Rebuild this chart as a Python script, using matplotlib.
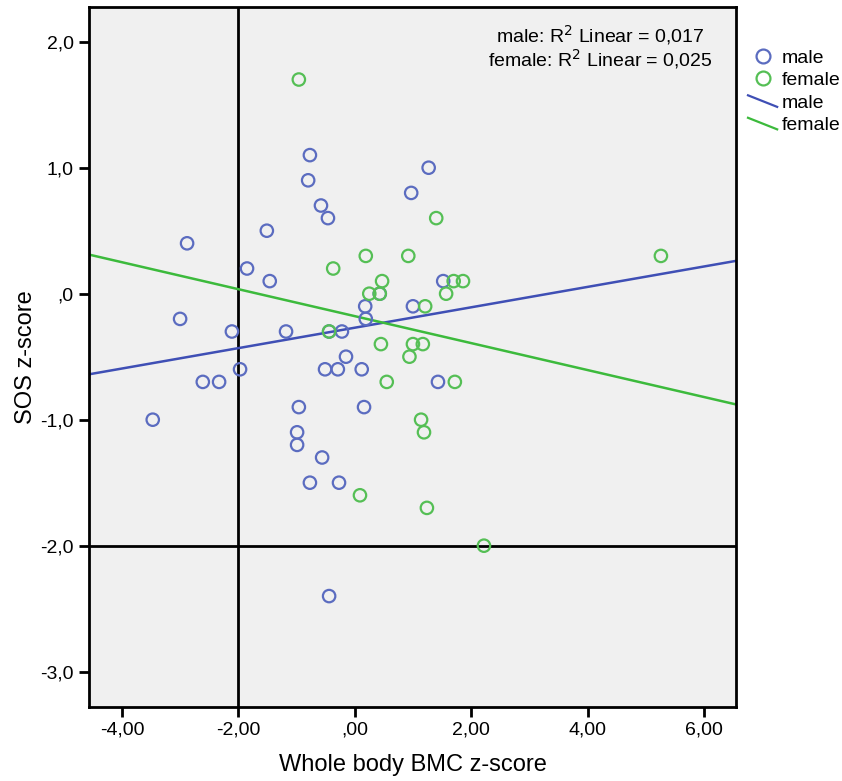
import matplotlib
matplotlib.use("Agg")
import matplotlib.pyplot as plt
import numpy as np
from matplotlib.lines import Line2D
from matplotlib.legend_handler import HandlerLine2D

plt.rcParams['font.family'] = ['Liberation Sans', 'DejaVu Sans']

# ---- data ----
male_x = [-3.47, -3.00, -2.88, -2.61, -2.33, -2.11, -1.97, -1.85, -1.51, -1.46,
          -1.18, -0.96, -0.99, -0.99, -0.77, -0.80, -0.77, -0.58, -0.56, -0.51,
          -0.46, -0.44, -0.44, -0.29, -0.27, -0.22, -0.15, 0.12, 0.16, 0.18,
          0.19, 0.43, 0.97, 1.00, 1.27, 1.43, 1.52]
male_y = [-1.0, -0.2, 0.4, -0.7, -0.7, -0.3, -0.6, 0.2, 0.5, 0.1,
          -0.3, -0.9, -1.1, -1.2, 1.1, 0.9, -1.5, 0.7, -1.3, -0.6,
          0.6, -0.3, -2.4, -0.6, -1.5, -0.3, -0.5, -0.6, -0.9, -0.1,
          -0.2, 0.0, 0.8, -0.1, 1.0, -0.7, 0.1]

female_x = [-0.96, -0.37, -0.44, 0.19, 0.25, 0.47, 0.43, 0.45, 0.55, 0.09,
            0.92, 0.94, 1.00, 1.17, 1.21, 1.40, 1.57, 1.70, 1.86, 1.72,
            1.14, 1.19, 1.24, 2.22, 5.26]
female_y = [1.7, 0.2, -0.3, 0.3, 0.0, 0.1, 0.0, -0.4, -0.7, -1.6,
            0.3, -0.5, -0.4, -0.4, -0.1, 0.6, 0.0, 0.1, 0.1, -0.7,
            -1.0, -1.1, -1.7, -2.0, 0.3]

# fit lines (intercept, slope)
male_fit = (-0.27, 0.081)
female_fit = (-0.178, -0.107)
r2_text = ["male: R$^2$ Linear = 0,017", "female: R$^2$ Linear = 0,025"]

x_ticks = [-4, -2, 0, 2, 4, 6]
x_ticklabels = ["-4,00", "-2,00", ",00", "2,00", "4,00", "6,00"]
y_ticks = [2, 1, 0, -1, -2, -3]
y_ticklabels = ["2,0", "1,0", ",0", "-1,0", "-2,0", "-3,0"]
ref_x = -2.0
ref_y = -2.0
x_lim = (-4.565, 6.55)
y_lim = (-3.278, 2.278)

# ---- styles ----
c_male_pt = "#5b6cc0"
c_fem_pt = "#55bf55"
c_male_ln = "#3f4fb5"
c_fem_ln = "#3cba3c"

fig = plt.figure(figsize=(8.42, 7.81), dpi=100)
ax = fig.add_axes([89/842, 1-706.7/781, (736-89)/842, (706.7-6.7)/781])
ax.set_facecolor("#f0f0f0")

ax.axvline(ref_x, color="black", lw=2, zorder=1)
ax.axhline(ref_y, color="black", lw=2, zorder=1)

xs = np.array(x_lim)
ax.plot(xs, male_fit[0] + male_fit[1]*xs, color=c_male_ln, lw=1.8, zorder=2)
ax.plot(xs, female_fit[0] + female_fit[1]*xs, color=c_fem_ln, lw=1.8, zorder=2)

ax.scatter(male_x, male_y, s=80, facecolors="none", edgecolors=c_male_pt, linewidths=1.6, zorder=3)
ax.scatter(female_x, female_y, s=80, facecolors="none", edgecolors=c_fem_pt, linewidths=1.6, zorder=3)

ax.set_xlim(*x_lim)
ax.set_ylim(*y_lim)
ax.set_xticks(x_ticks)
ax.set_xticklabels(x_ticklabels)
ax.set_yticks(y_ticks)
ax.set_yticklabels(y_ticklabels)
ax.tick_params(axis="both", direction="out", length=7, width=2, labelsize=14, color="black", pad=4)
for sp in ax.spines.values():
    sp.set_linewidth(2)
    sp.set_color("black")

ax.set_xlabel("Whole body BMC z-score", fontsize=17, labelpad=11)
ax.set_ylabel("SOS z-score", fontsize=17, labelpad=2)

ax.text(0.79, 0.976, r2_text[0] + "\n" + r2_text[1], transform=ax.transAxes,
        ha="center", va="top", fontsize=14, linespacing=1.0)


class SlantHandler(HandlerLine2D):
    def create_artists(self, legend, orig_handle, xdescent, ydescent, width, height, fontsize, trans):
        ln = Line2D([-xdescent, -xdescent + width], [-ydescent + height*0.9, -ydescent + height*0.05],
                    color=orig_handle.get_color(), lw=orig_handle.get_linewidth())
        ln.set_transform(trans)
        return [ln]


h1 = Line2D([], [], ls="none", marker="o", markersize=10, markerfacecolor="none",
            markeredgecolor=c_male_pt, markeredgewidth=1.6)
h2 = Line2D([], [], ls="none", marker="o", markersize=10, markerfacecolor="none",
            markeredgecolor=c_fem_pt, markeredgewidth=1.6)
h3 = Line2D([], [], color=c_male_ln, lw=1.6)
h4 = Line2D([], [], color=c_fem_ln, lw=1.6)
fig.legend([h1, h2, h3, h4], ["male", "female", "male", "female"],
           loc="upper left", bbox_to_anchor=(748/842, 1-49/781), frameon=False,
           fontsize=14, handlelength=1.5, handletextpad=0.25, labelspacing=0.25,
           borderpad=0, borderaxespad=0,
           handler_map={h3: SlantHandler(), h4: SlantHandler()})

fig.savefig("out.png", dpi=100)
